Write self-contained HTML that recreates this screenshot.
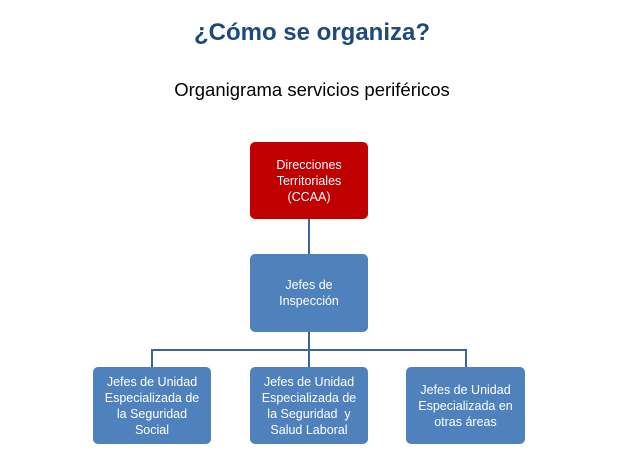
<!DOCTYPE html>
<html><head><meta charset="utf-8"><style>
body{margin:0;width:624px;height:467px;background:#fff;position:relative;font-family:"Liberation Sans",sans-serif;overflow:hidden}
.t{position:absolute;left:0;width:624px;text-align:center}
.b{position:absolute;display:flex;align-items:center;justify-content:center;text-align:center;color:#fff;font-size:12.5px;line-height:16px;border-radius:5px;background:#4f81bd;box-sizing:border-box;padding:0 4px}
.l{position:absolute;background:#3c6597}
</style></head><body>
<div class="t" style="top:19px;font-size:24px;font-weight:bold;color:#1f497d">¿Cómo se organiza?</div>
<div class="t" style="top:79px;font-size:18.5px;color:#000">Organigrama servicios periféricos</div>
<div class="l" style="left:308px;top:219px;width:2px;height:35px"></div>
<div class="l" style="left:308px;top:332px;width:2px;height:35px"></div>
<div class="l" style="left:151px;top:349px;width:316px;height:2px"></div>
<div class="l" style="left:151px;top:349px;width:2px;height:18px"></div>
<div class="l" style="left:465px;top:349px;width:2px;height:18px"></div>
<div class="b" style="left:250px;top:142px;width:118px;height:77px;background:#c00000">Direcciones<br>Territoriales<br>(CCAA)</div>
<div class="b" style="left:250px;top:254px;width:118px;height:78px">Jefes de<br>Inspección</div>
<div class="b" style="left:93px;top:367px;width:118px;height:77px">Jefes de Unidad<br>Especializada de<br>la Seguridad<br>Social</div>
<div class="b" style="left:250px;top:367px;width:118px;height:77px">Jefes de Unidad<br>Especializada de<br>la Seguridad &nbsp;y<br>Salud Laboral</div>
<div class="b" style="left:406px;top:367px;width:119px;height:77px">Jefes de Unidad<br>Especializada en<br>otras áreas</div>
</body></html>
